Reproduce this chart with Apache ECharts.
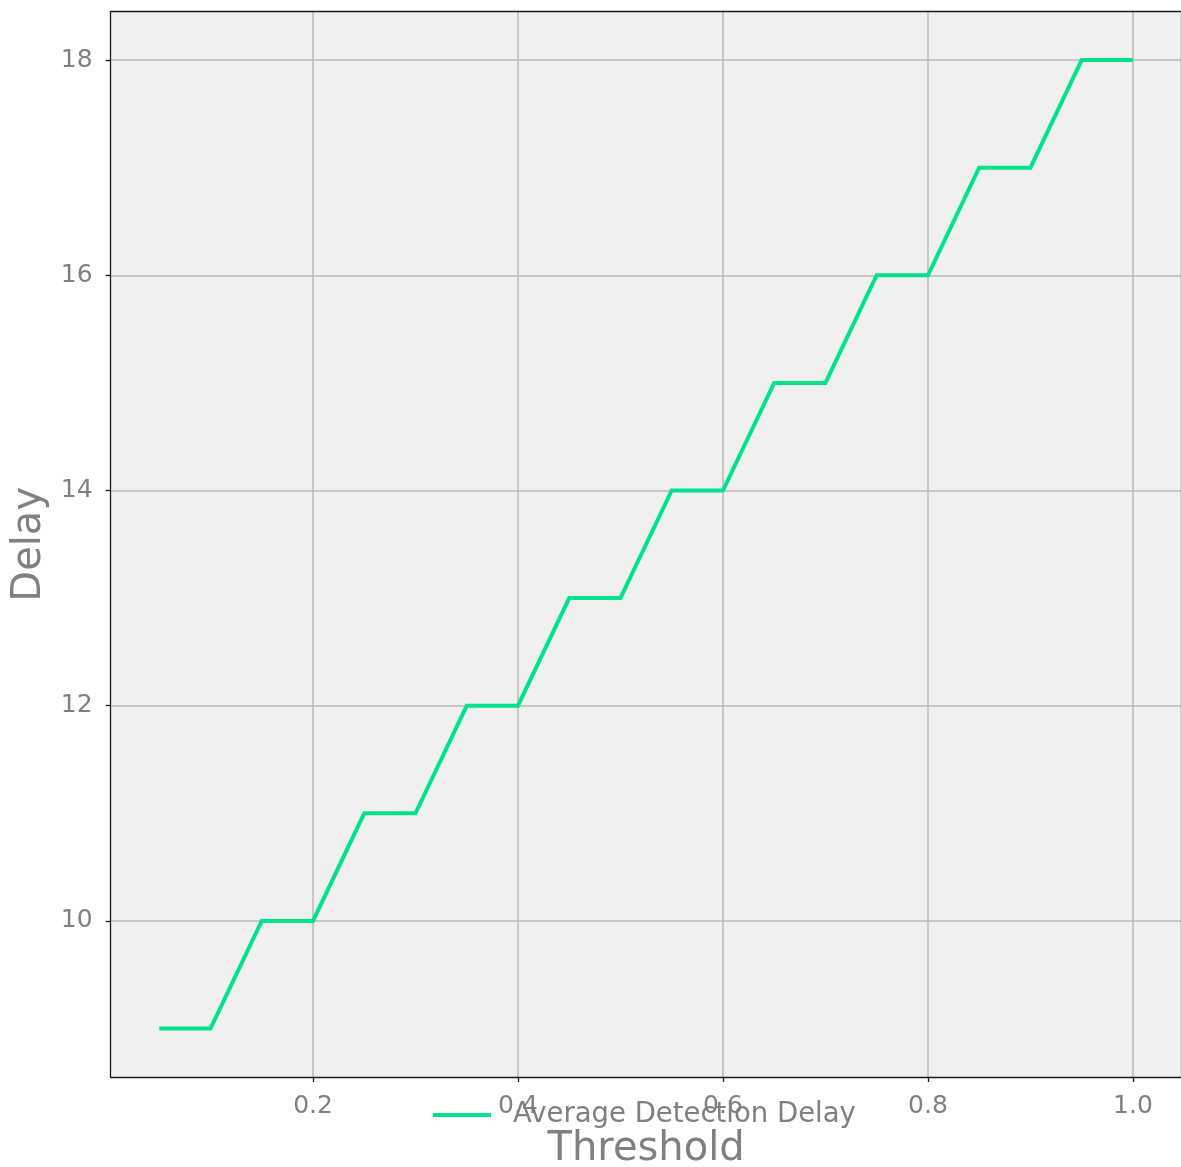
<!DOCTYPE html>
<html>
<head>
<meta charset="utf-8">
<script src="https://cdn.jsdelivr.net/npm/echarts@6/dist/echarts.min.js"></script>
<style>
  html, body { margin: 0; padding: 0; background: #ffffff; }
  #chart { width: 1181px; height: 1167px; }
</style>
</head>
<body>
<div id="chart"></div>
<script>
// Detection threshold sweep and the resulting average delay
const thresholds = [0.05, 0.10, 0.15, 0.20, 0.25, 0.30, 0.35, 0.40, 0.45, 0.50,
                    0.55, 0.60, 0.65, 0.70, 0.75, 0.80, 0.85, 0.90, 0.95, 1.00];
const avgDelay   = [9, 9, 10, 10, 11, 11, 12, 12, 13, 13,
                    14, 14, 15, 15, 16, 16, 17, 17, 18, 18];
const xTicks = [0.2, 0.4, 0.6, 0.8, 1.0];
const yTicks = [10, 12, 14, 16, 18];
const seriesName = 'Average Detection Delay';

const FONT = 'DejaVu Sans';
const GREY = '#808080';
const GRIDLINE = { show: true, lineStyle: { color: '#bababa', width: 1.5 } };

const chart = echarts.init(document.getElementById('chart'), null, { renderer: 'canvas' });

const baseAxisLine = { show: true, lineStyle: { color: '#1a1a1a', width: 1.3 } };

chart.setOption({
  backgroundColor: '#ffffff',
  animation: false,
  grid: {
    left: 110.6, top: 11.6, width: 1071, height: 1065.4,
    outerBoundsMode: 'none', containLabel: false,
    show: true, backgroundColor: '#f0f0f0', borderWidth: 0
  },
  legend: {
    data: [seriesName],
    left: 433, top: 1101, padding: 0,
    icon: 'rect', itemWidth: 58, itemHeight: 3.8,
    textStyle: { color: GREY, fontFamily: FONT, fontSize: 27.5, padding: [0, 0, 0, 17] }
  },
  xAxis: [{
    type: 'value', min: 0.0025, max: 1.0475,
    name: 'Threshold', nameLocation: 'middle', nameGap: 53,
    nameTextStyle: { color: GREY, fontFamily: FONT, fontSize: 40 },
    axisLine: baseAxisLine,
    axisTick: { show: true, customValues: xTicks, length: 5, lineStyle: { color: '#1a1a1a', width: 1.3 } },
    axisLabel: { customValues: xTicks, color: GREY, fontFamily: FONT, fontSize: 25, margin: 17,
                 formatter: v => v.toFixed(1) },
    splitLine: GRIDLINE
  }, {
    type: 'value', position: 'top', min: 0.0025, max: 1.0475,
    axisLine: baseAxisLine, axisTick: { show: false }, axisLabel: { show: false }, splitLine: { show: false }
  }],
  yAxis: [{
    type: 'value', min: 8.55, max: 18.45,
    name: 'Delay', nameLocation: 'middle', nameGap: 54, nameRotate: 90,
    nameTextStyle: { color: GREY, fontFamily: FONT, fontSize: 40 },
    axisLine: baseAxisLine,
    axisTick: { show: true, customValues: yTicks, length: 5, lineStyle: { color: '#1a1a1a', width: 1.3 } },
    axisLabel: { customValues: yTicks, color: GREY, fontFamily: FONT, fontSize: 25, margin: 18 },
    splitLine: GRIDLINE
  }, {
    type: 'value', position: 'right', min: 8.55, max: 18.45,
    axisLine: { show: true, lineStyle: { color: '#1a1a1a', width: 1.3 } },
    axisTick: { show: false }, axisLabel: { show: false }, splitLine: { show: false }
  }],
  series: [{
    name: seriesName,
    type: 'line',
    data: thresholds.map((t, i) => [t, avgDelay[i]]),
    showSymbol: false,
    lineStyle: { color: '#00e28c', width: 4, join: 'miter' },
    itemStyle: { color: '#00e28c' },
    z: 3
  }]
});
</script>
</body>
</html>
